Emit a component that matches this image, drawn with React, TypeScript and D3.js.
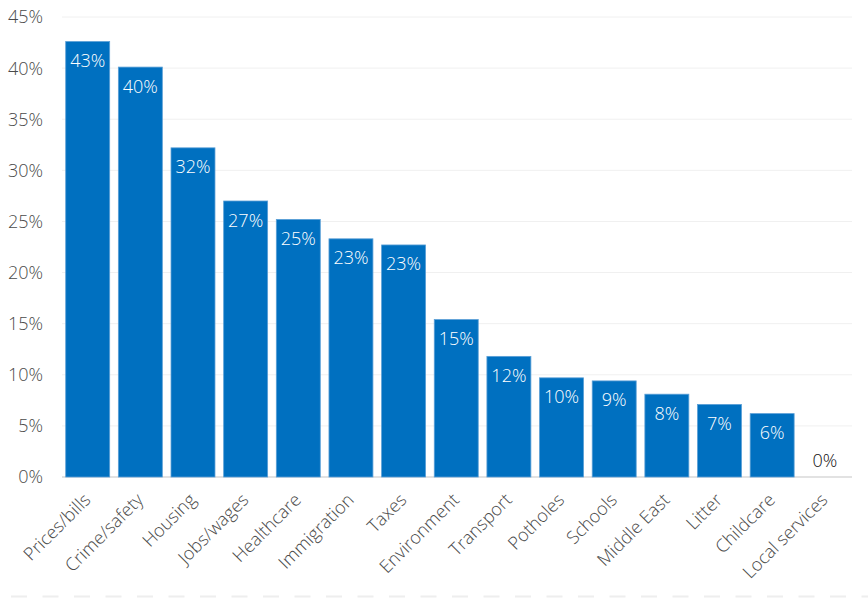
import { useEffect, useRef } from "react";
import * as d3 from "d3";

const categories = [
  "Prices/bills",
  "Crime/safety",
  "Housing",
  "Jobs/wages",
  "Healthcare",
  "Immigration",
  "Taxes",
  "Environment",
  "Transport",
  "Potholes",
  "Schools",
  "Middle East",
  "Litter",
  "Childcare",
  "Local services",
];

const values = [42.6, 40.1, 32.2, 27.0, 25.2, 23.3, 22.7, 15.4, 11.8, 9.7, 9.4, 8.1, 7.1, 6.2, 0];
const labels = ["43%", "40%", "32%", "27%", "25%", "23%", "23%", "15%", "12%", "10%", "9%", "8%", "7%", "6%", "0%"];
const yTicks = [0, 5, 10, 15, 20, 25, 30, 35, 40, 45];

const W = 868;
const H = 598;
const FONT = "'Open Sans', 'DejaVu Sans', sans-serif";

export default function App() {
  const svgRef = useRef<SVGSVGElement>(null);

  useEffect(() => {
    if (!svgRef.current) return;
    const svg = d3.select(svgRef.current);
    svg.selectAll("*").remove();

    const x = d3
      .scaleBand<string>()
      .domain(categories)
      .range([61.5, 851])
      .paddingInner(0.165)
      .paddingOuter(0.08);

    const y = d3.scaleLinear().domain([0, 45]).range([477, 17]);

    // gridlines
    svg
      .append("g")
      .selectAll("line")
      .data(yTicks)
      .enter()
      .append("line")
      .attr("x1", 62)
      .attr("x2", 852)
      .attr("y1", (d) => y(d))
      .attr("y2", (d) => y(d))
      .attr("stroke", (d) => (d === 0 ? "#e2e2e2" : "#f0f0f0"))
      .attr("stroke-width", (d) => (d === 0 ? 2 : 1));

    // y tick labels
    svg
      .append("g")
      .selectAll("text")
      .data(yTicks)
      .enter()
      .append("text")
      .attr("x", 43)
      .attr("y", (d) => y(d))
      .attr("dy", "0.36em")
      .attr("text-anchor", "end")
      .attr("fill", "#4a4a4a")
      .style("font-family", FONT)
      .style("font-weight", 300)
      .style("font-size", "18px")
      .text((d) => `${d}%`);

    const data = categories.map((c, i) => ({ name: c, value: values[i], label: labels[i] }));

    // bars
    svg
      .append("g")
      .selectAll("rect")
      .data(data.filter((d) => d.value > 0))
      .enter()
      .append("rect")
      .attr("x", (d) => x(d.name)!)
      .attr("y", (d) => y(d.value))
      .attr("width", x.bandwidth())
      .attr("height", (d) => y(0) - y(d.value))
      .attr("fill", "#0070c0")
      .attr("stroke", "#5a9fd6")
      .attr("stroke-width", 0.8);

    // value labels
    svg
      .append("g")
      .selectAll("text")
      .data(data)
      .enter()
      .append("text")
      .attr("x", (d) => x(d.name)! + x.bandwidth() / 2)
      .attr("y", (d) => (d.value > 2 ? y(d.value) + 25.5 : y(0) - 10))
      .attr("text-anchor", "middle")
      .attr("fill", (d) => (d.value > 2 ? "#ffffff" : "#111111"))
      .style("font-family", FONT)
      .style("font-weight", 300)
      .style("font-size", "18px")
      .text((d) => d.label);

    // x labels
    svg
      .append("g")
      .selectAll("text")
      .data(categories)
      .enter()
      .append("text")
      .attr(
        "transform",
        (d) => `translate(${x(d)! + x.bandwidth() / 2 + 4},${501}) rotate(-45)`
      )
      .attr("text-anchor", "end")
      .attr("fill", "#4a4a4a")
      .style("font-family", FONT)
      .style("font-weight", 300)
      .style("font-size", "18px")
      .text((d) => d);

    // bottom dashed rule
    svg
      .append("line")
      .attr("x1", 11)
      .attr("x2", 868)
      .attr("y1", 596.5)
      .attr("y2", 596.5)
      .attr("stroke", "#eeeeee")
      .attr("stroke-width", 2)
      .attr("stroke-dasharray", "16 15.5");
  }, []);

  return (
    <svg
      ref={svgRef}
      width={W}
      height={H}
      viewBox={`0 0 ${W} ${H}`}
      style={{ position: "absolute", left: 0, top: 0, background: "#fff" }}
    />
  );
}
